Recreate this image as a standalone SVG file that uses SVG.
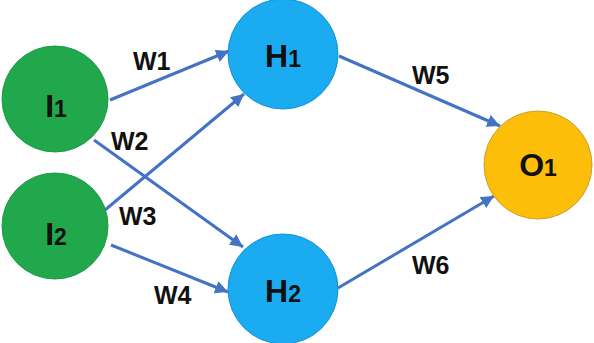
<svg xmlns="http://www.w3.org/2000/svg" width="594" height="343" viewBox="0 0 594 343">
<defs>
<marker id="ah" viewBox="0 0 10 10" refX="10" refY="5" markerWidth="4.3" markerHeight="4.3" orient="auto" markerUnits="strokeWidth">
<path d="M0,0 L10,5 L0,10 Z" fill="#4472C4"/>
</marker>
<style>
.edge{stroke:#4472C4;stroke-width:3;fill:none;marker-end:url(#ah)}
.in{fill:#21A84D;stroke:#1C9A45;stroke-width:1}
.hid{fill:#1AABF0;stroke:#1592D2;stroke-width:1}
.out{fill:#FDBE0A;stroke:#C9A035;stroke-width:1}
.lbl{font-family:"Liberation Sans",Arial,sans-serif;font-weight:bold;fill:#111;text-anchor:middle}
.big{font-size:32px}
.sub{font-size:23px}
.w{font-family:"Liberation Sans",Arial,sans-serif;font-weight:bold;font-size:25px;fill:#111}
</style>
</defs>
<rect width="594" height="343" fill="#fff"/>
<g id="connectors">
<line class="edge" x1="110" y1="100" x2="229" y2="51"/>
<line class="edge" x1="94" y1="140" x2="243" y2="247"/>
<line class="edge" x1="105" y1="210" x2="244" y2="94"/>
<line class="edge" x1="111" y1="245" x2="228" y2="292"/>
<line class="edge" x1="339" y1="56" x2="500" y2="126"/>
<line class="edge" x1="338" y1="288" x2="494" y2="196"/>
<text class="w" x="133" y="70">W1</text>
<text class="w" x="111" y="150">W2</text>
<text class="w" x="119" y="225">W3</text>
<text class="w" x="154" y="304">W4</text>
<text class="w" x="412" y="84">W5</text>
<text class="w" x="412" y="274">W6</text>
</g>
<g id="I1">
<circle class="in" cx="55" cy="99" r="53"/>
<text class="lbl" x="56" y="117"><tspan class="big">I</tspan><tspan class="sub">1</tspan></text>
</g>
<g id="I2">
<circle class="in" cx="55" cy="226" r="53"/>
<text class="lbl" x="56" y="245"><tspan class="big">I</tspan><tspan class="sub">2</tspan></text>
</g>
<g id="H1">
<circle class="hid" cx="283" cy="54" r="55"/>
<text class="lbl" x="283" y="67"><tspan class="big">H</tspan><tspan class="sub">1</tspan></text>
</g>
<g id="H2">
<circle class="hid" cx="283" cy="289" r="55"/>
<text class="lbl" x="283" y="302"><tspan class="big">H</tspan><tspan class="sub">2</tspan></text>
</g>
<g id="O1">
<circle class="out" cx="538" cy="165" r="54"/>
<text class="lbl" x="538" y="176"><tspan class="big">O</tspan><tspan class="sub">1</tspan></text>
</g>
</svg>
